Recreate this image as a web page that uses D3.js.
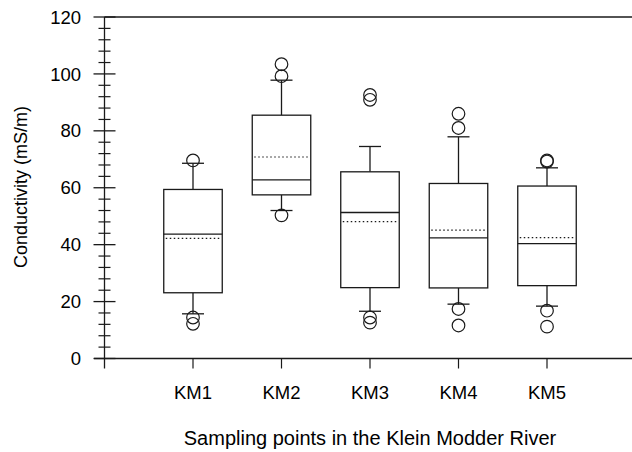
<!DOCTYPE html>
<html><head><meta charset="utf-8">
<script src="https://cdn.jsdelivr.net/npm/d3@7"></script>
<style>body{margin:0;background:#fff}svg{display:block}text{font-family:"Liberation Sans",Arial,sans-serif;fill:#000}</style>
</head><body><svg id="c" width="632" height="452"></svg>
<script>
const categories = ["KM1","KM2","KM3","KM4","KM5"];
const q1 =      [23.1, 57.5, 24.9, 24.8, 25.6];
const q3 =      [59.4, 85.5, 65.6, 61.5, 60.6];
const medians = [43.7, 62.8, 51.3, 42.4, 40.4];
const means =   [42.2, 70.8, 48.1, 45.1, 42.5];
const whiskerLow =  [15.7, 52.0, 16.6, 19.1, 18.4];
const whiskerHigh = [68.6, 97.8, 74.5, 77.9, 67.0];
const outliers = [
  [69.6, 14.4, 12.2],
  [103.4, 99.2, 50.3],
  [92.6, 90.9, 14.4, 12.6],
  [86.0, 81.0, 17.4, 11.6],
  [69.6, 69.2, 16.8, 11.2]
];
const yTicks = [0,20,40,60,80,100,120];
const yTitle = "Conductivity (mS/m)";
const xTitle = "Sampling points in the Klein Modder River";

const svg = d3.select("#c");
const x0 = 104.5, yTop = 17, yBot = 358.5;
const x = d3.scaleLinear().domain([0,6]).range([x0, x0 + 6*88.5]);
const y = d3.scaleLinear().domain([0,120]).range([yBot, yTop]);
const ink = "#1a1a1a";

svg.append("line").attr("x1",x0).attr("x2",632).attr("y1",yTop).attr("y2",yTop).attr("stroke",ink).attr("stroke-width",1.3);
svg.append("line").attr("x1",94).attr("x2",632).attr("y1",yBot).attr("y2",yBot).attr("stroke",ink).attr("stroke-width",1.3);
svg.append("line").attr("x1",x0).attr("x2",x0).attr("y1",yTop).attr("y2",yBot+10).attr("stroke",ink).attr("stroke-width",1.3);

const minor = d3.range(0,121,4).filter(v=>v%20!==0);
svg.selectAll(".mn").data(minor).enter().append("line")
  .attr("x1",x0-6).attr("x2",x0+6).attr("y1",d=>y(d)).attr("y2",d=>y(d)).attr("stroke",ink).attr("stroke-width",1.2);
svg.selectAll(".mj").data(yTicks).enter().append("line")
  .attr("x1",x0-11).attr("x2",x0+11).attr("y1",d=>y(d)).attr("y2",d=>y(d)).attr("stroke",ink).attr("stroke-width",1.3);
svg.selectAll(".yl").data(yTicks).enter().append("text")
  .attr("x",81).attr("y",d=>y(d)).attr("dy","0.36em").attr("text-anchor","end")
  .attr("font-size",18.5).text(d=>d);

svg.selectAll(".xt").data(categories).enter().append("line")
  .attr("x1",(d,i)=>x(i+1)).attr("x2",(d,i)=>x(i+1)).attr("y1",yBot).attr("y2",yBot+10).attr("stroke",ink).attr("stroke-width",1.2);
svg.selectAll(".xl").data(categories).enter().append("text")
  .attr("x",(d,i)=>x(i+1)).attr("y",398.5).attr("text-anchor","middle").attr("font-size",18.5).text(d=>d);

svg.append("text").attr("x",x(3)).attr("y",445).attr("text-anchor","middle").attr("font-size",20).text(xTitle);
svg.append("text").attr("transform","translate(27,187) rotate(-90)").attr("text-anchor","middle").attr("font-size",18).text(yTitle);

const bw = 58.5, cw = 22, r = 6.3;
categories.forEach((c,i)=>{
  const cx = x(i+1);
  const g = svg.append("g").attr("stroke",ink).attr("fill","none").attr("stroke-width",1.3);
  g.append("line").attr("x1",cx).attr("x2",cx).attr("y1",y(q3[i])).attr("y2",y(whiskerHigh[i]));
  g.append("line").attr("x1",cx).attr("x2",cx).attr("y1",y(q1[i])).attr("y2",y(whiskerLow[i]));
  g.append("line").attr("x1",cx-cw/2).attr("x2",cx+cw/2).attr("y1",y(whiskerHigh[i])).attr("y2",y(whiskerHigh[i]));
  g.append("line").attr("x1",cx-cw/2).attr("x2",cx+cw/2).attr("y1",y(whiskerLow[i])).attr("y2",y(whiskerLow[i]));
  g.append("rect").attr("x",cx-bw/2).attr("y",y(q3[i])).attr("width",bw).attr("height",y(q1[i])-y(q3[i])).attr("fill","#fff");
  g.append("line").attr("x1",cx-bw/2).attr("x2",cx+bw/2).attr("y1",y(medians[i])).attr("y2",y(medians[i]));
  g.append("line").attr("x1",cx-bw/2+2).attr("x2",cx+bw/2-2).attr("y1",y(means[i])).attr("y2",y(means[i]))
    .attr("stroke-dasharray","1.5,2.5").attr("stroke-width",1.2);
  outliers[i].forEach(v=>{
    g.append("circle").attr("cx",cx).attr("cy",y(v)).attr("r",r).attr("stroke-width",1.2);
  });
});
</script></body></html>
